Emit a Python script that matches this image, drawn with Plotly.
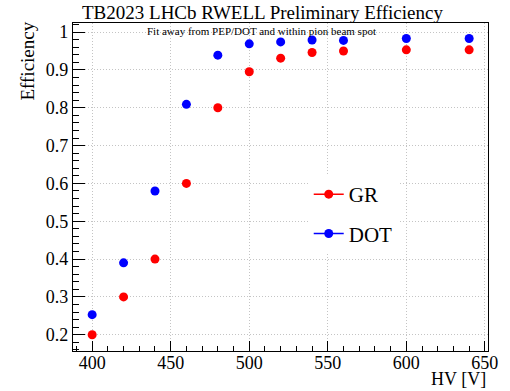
import plotly.graph_objects as go

# HV scan points and measured efficiencies
hv = [400, 420, 440, 460, 480, 500, 520, 540, 560, 600, 640]
eff_gr = [0.200, 0.300, 0.400, 0.600, 0.800, 0.895, 0.931, 0.946, 0.950, 0.953, 0.953]
eff_dot = [0.253, 0.390, 0.580, 0.809, 0.939, 0.969, 0.974, 0.979, 0.978, 0.983, 0.983]

series = [("GR", eff_gr, "#ff0000"), ("DOT", eff_dot, "#0000ff")]

SERIF = "Liberation Serif"
W, H = 510, 391
L, R, T, B = 73, 18, 23, 40

fig = go.Figure()
for i, (name, vals, col) in enumerate(series):
    fig.add_trace(go.Scatter(
        x=hv, y=vals, mode="markers", name=name, showlegend=False,
        marker=dict(color=col, size=9, line=dict(width=0)),
    ))
    # legend entry drawn as marker with error-bar style line
    fig.add_trace(go.Scatter(
        x=[None], y=[None], mode="lines+markers", name=name,
        legendgroup=name,
        marker=dict(color=col, size=9), line=dict(color=col, width=1.5),
    ))

tick_font = dict(family=SERIF, size=18, color="black")
axis_common = dict(
    showline=True, linecolor="black", linewidth=1.2, mirror=True,
    ticks="inside", tickcolor="black",
    showgrid=True, gridcolor="#c4c4c4", griddash="1px,2px", gridwidth=1,
    zeroline=False,
)

fig.update_xaxes(
    range=[387.8, 652], tickmode="array",
    tickvals=[400, 450, 500, 550, 600, 650], ticklen=10,
    tickfont=tick_font, ticklabelstandoff=-5,
    minor=dict(ticks="inside", ticklen=5, dtick=10, tick0=400, tickcolor="black", showgrid=False),
    **axis_common,
)
fig.update_yaxes(
    range=[0.157, 1.024], tickmode="array",
    tickvals=[0.2, 0.3, 0.4, 0.5, 0.6, 0.7, 0.8, 0.9, 1.0],
    ticktext=["0.2", "0.3", "0.4", "0.5", "0.6", "0.7", "0.8", "0.9", "1"],
    ticklen=12, tickfont=tick_font,
    minor=dict(ticks="inside", ticklen=6, dtick=0.02, tick0=0.2, tickcolor="black", showgrid=False),
    **axis_common,
)

pw = W - L - R
ph = H - T - B

def px(xp):
    return (xp - L) / pw

def py(yp):
    return 1 - (yp - T) / ph

fig.update_layout(
    width=W, height=H,
    margin=dict(l=L, r=R, t=T, b=B),
    paper_bgcolor="white", plot_bgcolor="white",
    font=dict(family=SERIF, color="black"),
    legend=dict(
        x=px(311), y=py(174), xanchor="left", yanchor="top",
        bgcolor="white", borderwidth=0,
        font=dict(family=SERIF, size=21, color="black"),
        tracegroupgap=9, itemwidth=30, entrywidth=110,
    ),
    annotations=[
        dict(text="TB2023 LHCb RWELL Preliminary Efficiency", xref="paper", yref="paper",
             x=px(264), y=py(13), xanchor="center", yanchor="middle", showarrow=False,
             font=dict(family=SERIF, size=19, color="black")),
        dict(text="Fit away from PEP/DOT and within pion beam spot", xref="paper", yref="paper",
             x=px(263), y=py(31), xanchor="center", yanchor="middle", showarrow=False,
             font=dict(family=SERIF, size=11, color="black")),
        dict(text="Efficiency", xref="paper", yref="paper", textangle=-90,
             x=px(14), y=py(20), xanchor="left", yanchor="top", showarrow=False,
             font=dict(family=SERIF, size=19, color="black")),
        dict(text="HV [V]", xref="paper", yref="paper",
             x=px(492), y=py(391), xanchor="right", yanchor="bottom", showarrow=False,
             font=dict(family=SERIF, size=18, color="black")),
    ],
)

fig.write_html("out.html")
